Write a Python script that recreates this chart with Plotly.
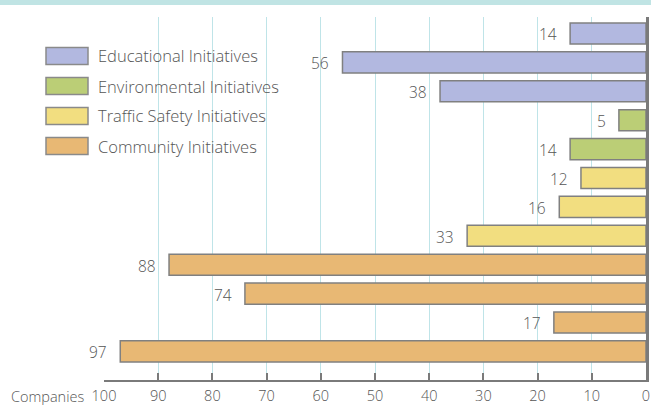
import plotly.graph_objects as go

# Number of companies per initiative, listed top to bottom
values = [14, 56, 38, 5, 14, 12, 16, 33, 88, 74, 17, 97]
groups = ["Educational Initiatives"] * 3 + ["Environmental Initiatives"] * 2 + \
         ["Traffic Safety Initiatives"] * 3 + ["Community Initiatives"] * 4
group_names = ["Educational Initiatives", "Environmental Initiatives",
               "Traffic Safety Initiatives", "Community Initiatives"]
group_colors = ["#B2B8E0", "#BBCE76", "#F2DE80", "#E8B874"]
tick_values = list(range(0, 101, 10))

FONT = "Open Sans"
TEXT = "#555555"
AXIS = "#7a7a7a"

W, H = 651, 405
L, R, T, B = 104, 5, 17, 25
pw, ph = W - L - R, H - T - B

fig = go.Figure()
for name, color in zip(group_names, group_colors):
    idx = [i for i, g in enumerate(groups) if g == name]
    fig.add_trace(go.Bar(
        x=[values[i] for i in idx], y=idx, orientation="h", width=0.73,
        name=name, showlegend=False,
        marker=dict(color=color, line=dict(color="#808080", width=1.5)),
        hoverinfo="x+name",
    ))

# value labels at the end of each bar
for i, v in enumerate(values):
    fig.add_annotation(x=v, y=i, xref="x", yref="y", text=str(v), showarrow=False,
                       xanchor="right", yanchor="middle", xshift=-11, yshift=-1,
                       font=dict(family=FONT, size=15.5, color=TEXT, weight=300))

def px_x(p):
    return (p - L) / pw

def px_y(p):
    return (H - B - p) / ph

shapes = []
# legend swatches and labels
for k, (name, color) in enumerate(zip(group_names, group_colors)):
    cy = 56 + 30 * k
    shapes.append(dict(type="rect", xref="paper", yref="paper",
                       x0=px_x(46), x1=px_x(88), y0=px_y(cy + 8.5), y1=px_y(cy - 8.5),
                       fillcolor=color, line=dict(color="#8a8a8a", width=1.5)))
    fig.add_annotation(xref="paper", yref="paper", x=px_x(96), y=px_y(cy),
                       text=name, showarrow=False, xanchor="left", yanchor="middle",
                       font=dict(family=FONT, size=16.5, color=TEXT, weight=300))

# header band
shapes.append(dict(type="rect", xref="paper", yref="paper", layer="above",
                   x0=px_x(0), x1=px_x(W), y0=px_y(5), y1=px_y(0),
                   fillcolor="#C0E4E4", line=dict(width=0)))

fig.add_annotation(xref="paper", yref="paper", x=px_x(86), y=px_y(396),
                   text="Companies", showarrow=False, xanchor="right", yanchor="middle",
                   font=dict(family=FONT, size=14.5, color=TEXT, weight=300))

fig.update_layout(
    width=W, height=H,
    margin=dict(l=L, r=R, t=T, b=B, autoexpand=False),
    paper_bgcolor="white", plot_bgcolor="white",
    shapes=shapes,
    xaxis=dict(range=[100, 0], tickvals=tick_values, ticks="inside", ticklen=7,
               tickwidth=2, tickcolor=AXIS, showline=True, linecolor=AXIS, linewidth=2,
               showgrid=True, gridcolor="#BFE4E8", gridwidth=1, zeroline=False,
               automargin=False, ticklabelstandoff=2,
               tickfont=dict(family=FONT, size=14.5, color=TEXT, weight=300)),
    yaxis=dict(range=[11.99, -0.57], side="right", showline=True, linecolor=AXIS,
               linewidth=2.5, showgrid=False, zeroline=False, showticklabels=False,
               ticks="", automargin=False),
    font=dict(family=FONT, color=TEXT),
)

fig.write_html("out.html")
